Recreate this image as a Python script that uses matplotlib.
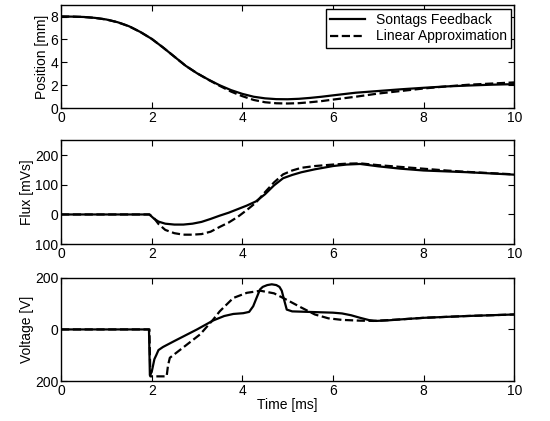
import numpy as np
import matplotlib
matplotlib.use('Agg')
import matplotlib.pyplot as plt

plt.rcParams['font.family'] = ['Liberation Sans', 'DejaVu Sans']
plt.rcParams['font.size'] = 10

# 位置 [mm]
pos_t = [0, 0.25, 0.5, 0.75, 1.0, 1.25, 1.5, 1.75, 2.0, 2.25, 2.5, 2.75, 3.0, 3.25,
         3.5, 3.75, 4.0, 4.25, 4.5, 4.75, 5.0, 5.25, 5.5, 5.75, 6.0, 6.5, 7.0, 7.5,
         8.0, 8.5, 9.0, 9.5, 10.0]
pos_sontag = [8.0, 7.99, 7.96, 7.88, 7.74, 7.5, 7.15, 6.65, 6.05, 5.3, 4.5, 3.7, 3.05, 2.5,
              2.0, 1.58, 1.25, 1.0, 0.86, 0.79, 0.78, 0.82, 0.9, 1.0, 1.12, 1.35, 1.5, 1.65,
              1.78, 1.9, 1.98, 2.05, 2.1]
pos_linear = [8.0, 7.99, 7.96, 7.88, 7.74, 7.5, 7.15, 6.65, 6.05, 5.3, 4.5, 3.7, 3.05, 2.48,
              1.95, 1.45, 1.05, 0.72, 0.52, 0.43, 0.41, 0.44, 0.52, 0.62, 0.75, 1.0, 1.28, 1.5,
              1.72, 1.9, 2.05, 2.15, 2.25]

# 磁束 [mVs]
flux_t = [0, 1.95, 2.05, 2.15, 2.3, 2.5, 2.7, 2.9, 3.1, 3.3, 3.5, 3.7, 3.9, 4.1, 4.3,
          4.5, 4.7, 4.9, 5.1, 5.3, 5.6, 6.0, 6.3, 6.6, 7.0, 7.5, 8.0, 8.5, 9.0, 9.5, 10.0]
flux_sontag = [0, 0, -14, -24, -31, -34, -34, -31, -25, -15, -4, 6, 18, 30, 44,
               68, 98, 122, 133, 142, 152, 163, 168, 170, 162, 154, 148, 145, 142, 138, 134]
flux_linear = [0, 0, -12, -32, -52, -63, -68, -68, -66, -58, -42, -27, -8, 15, 40,
               75, 108, 135, 148, 157, 163, 168, 171, 172, 166, 160, 154, 148, 143, 139, 135]

# 電圧 [V]
volt_t_s = [0, 1.94, 1.96, 2.0, 2.03, 2.06, 2.1, 2.15, 2.25, 2.5, 3.0, 3.36, 3.6, 3.8, 4.02,
            4.15, 4.24, 4.32, 4.39, 4.45, 4.55, 4.65, 4.75, 4.82, 4.87, 4.92, 4.98, 5.1,
            6.0, 6.2, 6.4, 6.6, 6.8, 6.95, 7.2, 7.5, 8.0, 8.95, 10.0]
volt_sontag = [0, 0, -178, -165, -140, -115, -100, -80, -68, -45, 0, 35, 52, 60, 63,
               68, 90, 125, 155, 165, 172, 175, 172, 165, 150, 116, 77, 70,
               65, 62, 55, 45, 36, 33, 35, 39, 45, 52, 58]
volt_t_l = [0, 1.95, 1.97, 2.33, 2.36, 2.4, 3.07, 3.36, 3.5, 3.8, 4.1, 4.4, 4.7,
            5.0, 5.3, 5.6, 5.9, 6.2, 6.6, 6.9, 7.5, 8.0, 8.95, 10.0]
volt_linear = [0, 0, -182, -182, -140, -110, -19, 39, 70, 122, 142, 150, 140,
               113, 85, 58, 43, 37, 34, 33, 39, 45, 52, 58]

fig = plt.figure(figsize=(5.5, 4.21), dpi=100)
ax1 = fig.add_axes([0.111, 0.743, 0.824, 0.245])
ax2 = fig.add_axes([0.111, 0.420, 0.824, 0.247])
ax3 = fig.add_axes([0.111, 0.095, 0.824, 0.245])

ax1.plot(pos_t, pos_sontag, 'k-', lw=1.6, label='Sontags Feedback')
ax1.plot(pos_t, pos_linear, 'k--', lw=1.6, label='Linear Approximation')
ax1.set_ylim(0, 9)
ax1.set_yticks([0, 2, 4, 6, 8])
ax1.set_ylabel('Position [mm]', labelpad=1)
leg = ax1.legend(loc='upper right', fancybox=False, framealpha=1, edgecolor='k',
                 borderpad=0.3, handlelength=2.5, labelspacing=0.2, borderaxespad=0.25)
leg.get_frame().set_linewidth(1.0)

ax2.plot(flux_t, flux_sontag, 'k-', lw=1.6)
ax2.plot(flux_t, flux_linear, 'k--', lw=1.6)
ax2.set_ylim(-100, 250)
ax2.set_yticks([-100, 0, 100, 200])
ax2.set_yticklabels(['100', '0', '100', '200'])
ax2.set_ylabel('Flux [mVs]', labelpad=1)

ax3.plot(volt_t_s, volt_sontag, 'k-', lw=1.6)
ax3.plot(volt_t_l, volt_linear, 'k--', lw=1.6)
ax3.set_ylim(-200, 200)
ax3.set_yticks([-200, 0, 200])
ax3.set_yticklabels(['200', '0', '200'])
ax3.set_ylabel('Voltage [V]', labelpad=1)
ax3.set_xlabel('Time [ms]', labelpad=0)

for ax in (ax1, ax2, ax3):
    ax.set_xlim(0, 10)
    ax.set_xticks([0, 2, 4, 6, 8, 10])
    ax.tick_params(direction='in', top=True, right=True, length=4, width=0.8, pad=2)
    for s in ax.spines.values():
        s.set_linewidth(1.0)

fig.savefig('out.png', dpi=100)
